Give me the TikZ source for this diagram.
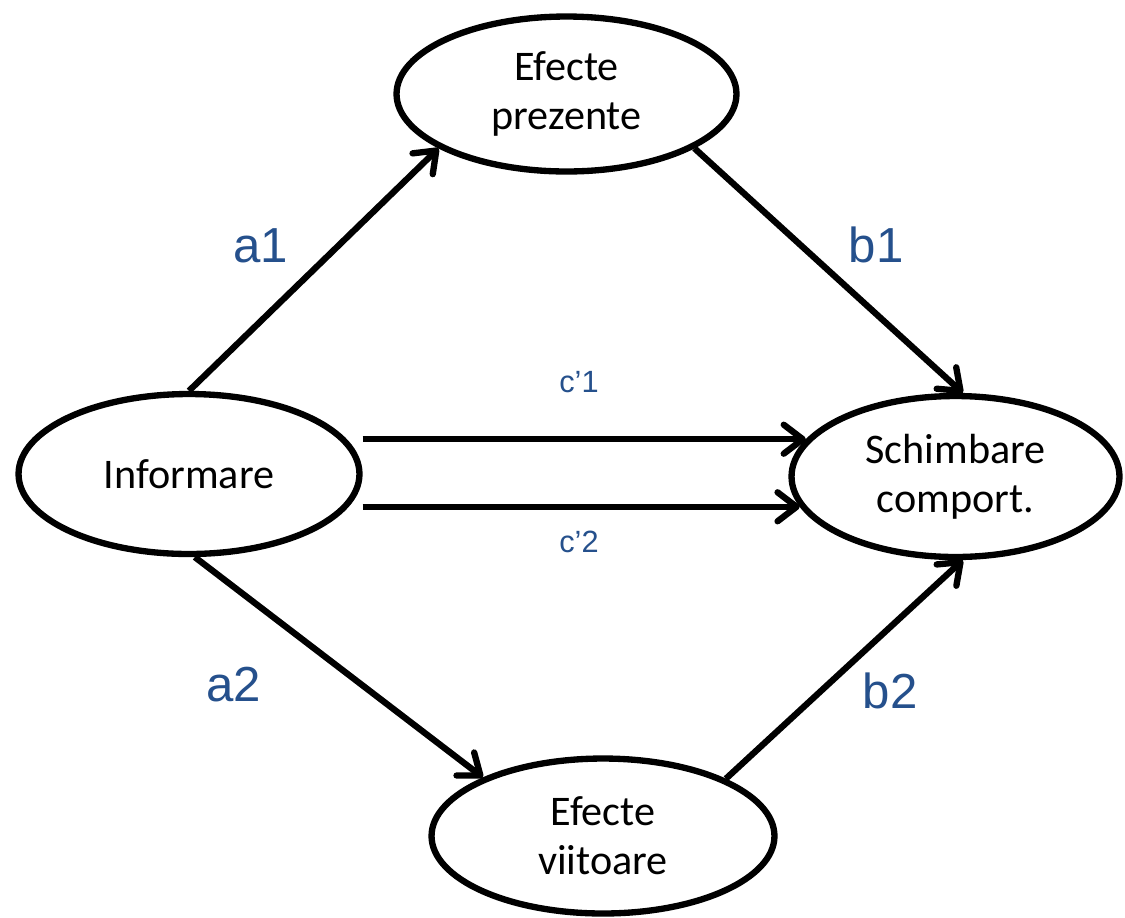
\documentclass[tikz,border=0pt]{standalone}
\usepackage{fontspec}
\setmainfont{Carlito}
\newfontfamily\labelfont{Liberation Sans}
\usetikzlibrary{arrows.meta,shapes.geometric}
\definecolor{pathblue}{RGB}{37,80,140}
\begin{document}
\begin{tikzpicture}[x=0.02cm,y=-0.02cm,
  var/.style={ellipse,draw,line width=3.6pt,inner sep=0pt,align=center,
    font=\fontsize{24}{28}\selectfont},
  link/.style={line width=3.6pt,
    -{Straight Barb[length=0.38cm,width=0.58cm,line cap=round,line join=round]}},
  coef/.style={text=pathblue,anchor=base,font=\labelfont\fontsize{28}{32}\selectfont},
  coefs/.style={text=pathblue,anchor=base,font=\labelfont\fontsize{17.5}{20}\selectfont}]
\useasboundingbox (0,0) rectangle (1125,917);

% variables of the mediation model
\node[var,minimum width=6.8cm,minimum height=3.1cm] (pres) at (566.5,94) {Efecte\\prezente};
\node[var,minimum width=6.82cm,minimum height=3.2cm] (inf) at (189,474) {Informare};
\node[var,minimum width=6.56cm,minimum height=3.22cm] (chg) at (955.5,476.5) {Schimbare\\comport.};
\node[var,minimum width=6.86cm,minimum height=3.1cm] (fut) at (603,836) {Efecte\\viitoare};

% paths
\draw[link] (inf.north) -- (pres.203.6);
\draw[link] (pres.337.7) -- (chg.85.6);
\draw[link] (inf.east |- chg.166.6) -- (chg.166.6);
\draw[link] (inf.east |- chg.191.3) -- (chg.191.3);
\draw[link] (inf.274) -- (fut.154.4);
\draw[link] (fut.25.1) -- (chg.275);

% path coefficients
\node[coef] (a1) at (261,262) {a1};
\node[coef] (b1) at (876,262) {b1};
\node[coefs] (c1) at (579,392) {c’1};
\node[coefs] (c2) at (579,552) {c’2};
\node[coef] (a2) at (234,701) {a2};
\node[coef] (b2) at (890,708) {b2};
\end{tikzpicture}
\end{document}
